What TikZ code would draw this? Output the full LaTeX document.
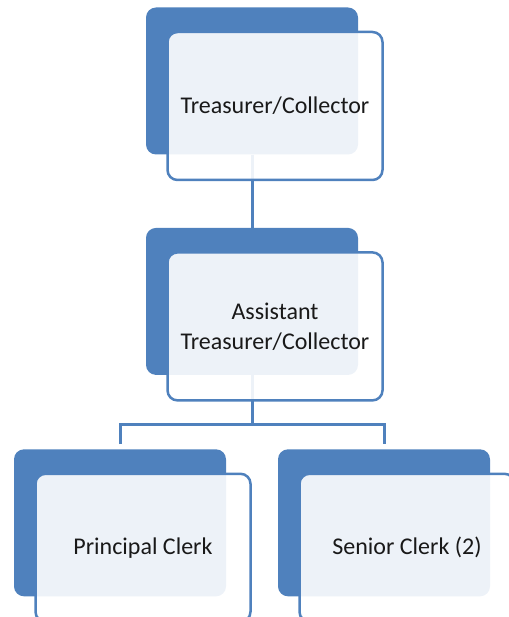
\documentclass[tikz,border=0pt]{standalone}
\usepackage{fontspec}
\setmainfont{Carlito}
\usetikzlibrary{positioning}
\definecolor{boxblue}{HTML}{4F81BD}

\begin{document}
\begin{tikzpicture}[x=1pt,y=1pt]
	\tikzstyle{back} = [fill=boxblue, rounded corners=10pt, minimum width=212pt, minimum height=147pt, inner sep=0pt]
	\tikzstyle{front} = [draw=boxblue, line width=2.5pt, fill=white, fill opacity=0.9, text opacity=1, text=black!90, rounded corners=10pt, minimum width=215pt, minimum height=148pt, align=center, font=\fontsize{24}{30}\selectfont]
	\tikzstyle{link} = [draw=boxblue, line width=3pt]

	\useasboundingbox (0,0) rectangle (508,-617);

	\node [back] (tcback) at (252,-81) {};
	\node [back, below = 73pt of tcback] (atcback) {};
	\node [back, below = 74pt of atcback, xshift=-132pt] (pcback) {};
	\node [back, below = 74pt of atcback, xshift=132pt] (scback) {};

	\coordinate [below = 49pt of atcback.south] (split);
	\coordinate [above = 5pt of pcback.north] (pcdrop);
	\coordinate [above = 5pt of scback.north] (scdrop);

	\draw [link] (tcback.south) -- (atcback.north);
	\draw [link] (atcback.south) -- (split);
	\draw [link] (pcdrop) |- (split) -| (scdrop);

	\node [front] (tc) at ([shift={(23pt,-25pt)}]tcback.center) {Treasurer/Collector};
	\node [front] (atc) at ([shift={(23pt,-25pt)}]atcback.center) {Assistant\\Treasurer/Collector};
	\node [front] (pc) at ([shift={(23pt,-25pt)}]pcback.center) {Principal Clerk};
	\node [front] (sc) at ([shift={(23pt,-25pt)}]scback.center) {Senior Clerk (2)};
\end{tikzpicture}
\end{document}
